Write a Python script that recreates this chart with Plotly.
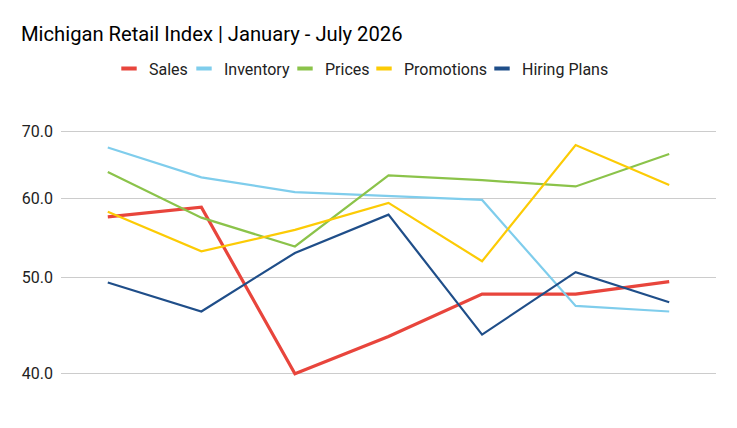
import math
import plotly.graph_objects as go

months = ["Jan", "Feb", "Mar", "Apr", "May", "Jun", "Jul"]
sales = [57.5, 58.8, 40.0, 43.6, 48.1, 48.1, 49.5]
inventory = [67.5, 63.0, 60.9, 60.3, 59.8, 46.8, 46.2]
prices = [63.8, 57.4, 53.7, 63.3, 62.6, 61.7, 66.5]
promotions = [58.2, 53.1, 55.8, 59.4, 51.9, 67.9, 61.9]
hiring = [49.4, 46.2, 52.9, 57.8, 43.8, 50.6, 47.2]

tick_vals = [40, 50, 60, 70]
tick_text = ["40.0", "50.0", "60.0", "70.0"]

series = [
    ("Sales", sales, "#E8453C", 3.2, 30),
    ("Inventory", inventory, "#7FCDEC", 2.2, 56),
    ("Prices", prices, "#8BC34A", 2.2, 34),
    ("Promotions", promotions, "#FCCB05", 2.2, 73),
    ("Hiring Plans", hiring, "#1F4E89", 2.2, 92),
]

fig = go.Figure()
for name, vals, color, w, lw in series:
    fig.add_trace(go.Scatter(
        x=months, y=vals, mode="lines", name=name,
        line=dict(color=color, width=w), showlegend=False,
    ))
for name, vals, color, w, lw in series:
    fig.add_trace(go.Scatter(
        x=[None], y=[None], mode="markers", name=name,
        marker=dict(symbol="line-ew", size=11, line=dict(color=color, width=4)),
        showlegend=True, legendwidth=lw,
    ))

fig.update_layout(
    width=737, height=428,
    paper_bgcolor="white", plot_bgcolor="white",
    font=dict(family="Roboto", size=16, color="#222222"),
    margin=dict(l=61, r=21, t=130, b=52),
    title=dict(
        text="Michigan Retail Index | January - July 2026",
        x=21 / 737, xref="container", xanchor="left",
        y=1 - 33.5 / 428, yref="container", yanchor="middle",
        font=dict(family="Roboto", size=20.2, color="#000000"),
    ),
    legend=dict(
        orientation="h", xref="container", yref="container",
        x=109 / 737, xanchor="left", y=1 - 68.5 / 428, yanchor="middle",
        font=dict(family="Roboto", size=16, color="#222222"),
        itemwidth=30, tracegroupgap=0,
    ),
    xaxis=dict(
        type="category", range=[-0.5, 6.5], showticklabels=False,
        showgrid=False, showline=False, zeroline=False, ticks="",
    ),
    yaxis=dict(
        type="log", range=[math.log10(39.8), math.log10(70.3)],
        tickvals=tick_vals, ticktext=tick_text,
        showgrid=True, gridcolor="#CCCCCC", gridwidth=1,
        showline=False, zeroline=False, ticks="",
        ticklabelstandoff=7,
        tickfont=dict(family="Roboto", size=16, color="#222222"),
    ),
)

fig.write_html("out.html", config={"displayModeBar": False},
               post_script="document.body.style.margin='0';")
